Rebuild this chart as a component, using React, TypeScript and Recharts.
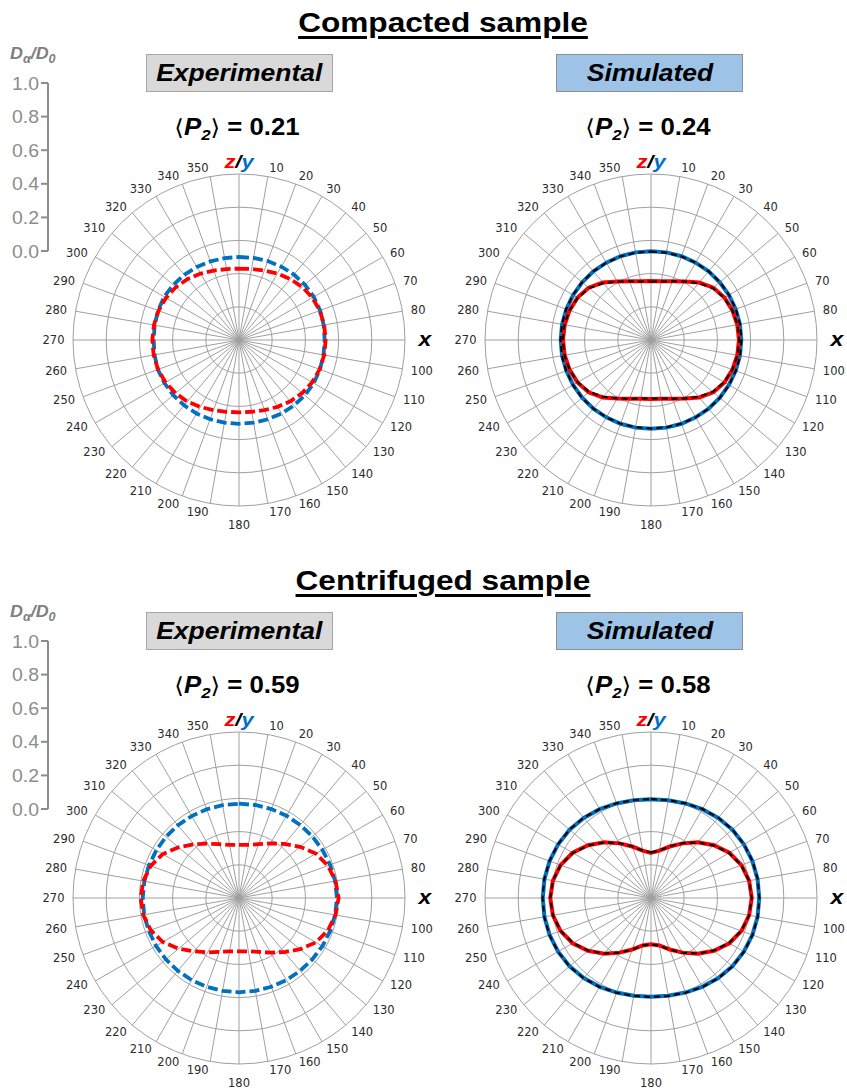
import React from 'react';
import {
  RadarChart,
  PolarGrid,
  PolarAngleAxis,
  PolarRadiusAxis,
  Radar,
  LineChart,
  Line,
  XAxis,
  YAxis,
} from 'recharts';

// ---------------- data ----------------
const ANGLES = [0, 10, 20, 30, 40, 50, 60, 70, 80, 90, 100, 110, 120, 130, 140, 150, 160, 170,
  180, 190, 200, 210, 220, 230, 240, 250, 260, 270, 280, 290, 300, 310, 320, 330, 340, 350];
const RADIAL_TICKS = [0, 0.2, 0.4, 0.6, 0.8, 1.0];

// Compacted sample – experimental (dashed)
const COMPACT_EXP_Y = [0.500, 0.502, 0.506, 0.510, 0.515, 0.518, 0.520, 0.520, 0.518, 0.516,
  0.517, 0.519, 0.520, 0.518, 0.515, 0.512, 0.508, 0.506, 0.505,
  0.506, 0.508, 0.511, 0.514, 0.517, 0.519, 0.520, 0.517, 0.514,
  0.516, 0.519, 0.520, 0.517, 0.513, 0.508, 0.504, 0.501];
const COMPACT_EXP_Z = [0.430, 0.434, 0.445, 0.462, 0.480, 0.497, 0.510, 0.518, 0.521, 0.522,
  0.521, 0.517, 0.509, 0.497, 0.482, 0.465, 0.449, 0.439, 0.436,
  0.439, 0.450, 0.466, 0.484, 0.499, 0.511, 0.519, 0.522, 0.522,
  0.520, 0.516, 0.508, 0.496, 0.480, 0.462, 0.445, 0.434];

// Compacted sample – simulated (solid) and fit (black dashed)
const COMPACT_SIM_Y = [0.535, 0.536, 0.537, 0.538, 0.540, 0.541, 0.542, 0.543, 0.544, 0.544,
  0.544, 0.543, 0.542, 0.541, 0.540, 0.538, 0.537, 0.536, 0.535,
  0.536, 0.537, 0.538, 0.540, 0.541, 0.542, 0.543, 0.544, 0.544,
  0.544, 0.543, 0.542, 0.541, 0.540, 0.538, 0.537, 0.536];
const COMPACT_FIT_Y = [0.533, 0.534, 0.536, 0.538, 0.540, 0.542, 0.543, 0.544, 0.545, 0.545,
  0.545, 0.544, 0.543, 0.542, 0.540, 0.538, 0.536, 0.534, 0.533,
  0.534, 0.536, 0.538, 0.540, 0.542, 0.543, 0.544, 0.545, 0.545,
  0.545, 0.544, 0.543, 0.542, 0.540, 0.538, 0.536, 0.534];
const COMPACT_SIM_Z = [0.355, 0.360, 0.377, 0.407, 0.452, 0.490, 0.511, 0.522, 0.528, 0.530,
  0.528, 0.522, 0.511, 0.490, 0.452, 0.407, 0.377, 0.360, 0.355,
  0.360, 0.377, 0.407, 0.452, 0.490, 0.511, 0.522, 0.528, 0.530,
  0.528, 0.522, 0.511, 0.490, 0.452, 0.407, 0.377, 0.360];
const COMPACT_FIT_Z = [0.353, 0.358, 0.376, 0.407, 0.447, 0.486, 0.509, 0.522, 0.529, 0.531,
  0.529, 0.522, 0.509, 0.486, 0.447, 0.407, 0.376, 0.358, 0.353,
  0.358, 0.376, 0.407, 0.447, 0.486, 0.509, 0.522, 0.529, 0.531,
  0.529, 0.522, 0.509, 0.486, 0.447, 0.407, 0.376, 0.358];

// Centrifuged sample – experimental (dashed)
const CENTRI_EXP_Y = [0.568, 0.569, 0.570, 0.572, 0.574, 0.577, 0.580, 0.584, 0.588, 0.590,
  0.588, 0.584, 0.580, 0.576, 0.573, 0.571, 0.569, 0.568, 0.568,
  0.568, 0.569, 0.571, 0.573, 0.575, 0.577, 0.579, 0.580, 0.580,
  0.579, 0.577, 0.575, 0.574, 0.572, 0.570, 0.569, 0.568];
const CENTRI_EXP_Z = [0.320, 0.325, 0.345, 0.380, 0.425, 0.480, 0.535, 0.570, 0.590, 0.600,
  0.590, 0.570, 0.535, 0.480, 0.425, 0.380, 0.345, 0.326, 0.322,
  0.326, 0.345, 0.378, 0.420, 0.475, 0.530, 0.566, 0.586, 0.592,
  0.586, 0.566, 0.530, 0.475, 0.422, 0.378, 0.345, 0.325];

// Centrifuged sample – simulated (solid) and fit (black dashed)
const CENTRI_SIM_Y = [0.595, 0.598, 0.606, 0.618, 0.630, 0.640, 0.646, 0.650, 0.652, 0.652,
  0.652, 0.650, 0.646, 0.640, 0.630, 0.618, 0.606, 0.598, 0.595,
  0.598, 0.606, 0.618, 0.630, 0.640, 0.646, 0.650, 0.652, 0.652,
  0.652, 0.650, 0.646, 0.640, 0.630, 0.618, 0.606, 0.598];
const CENTRI_FIT_Y = [0.596, 0.599, 0.607, 0.619, 0.631, 0.641, 0.647, 0.651, 0.653, 0.653,
  0.653, 0.651, 0.647, 0.641, 0.631, 0.619, 0.607, 0.599, 0.596,
  0.599, 0.607, 0.619, 0.631, 0.641, 0.647, 0.651, 0.653, 0.653,
  0.653, 0.651, 0.647, 0.641, 0.631, 0.619, 0.607, 0.599];
const CENTRI_SIM_Z = [0.272, 0.290, 0.330, 0.380, 0.438, 0.495, 0.545, 0.580, 0.600, 0.607,
  0.600, 0.580, 0.545, 0.495, 0.438, 0.380, 0.330, 0.290, 0.278,
  0.290, 0.330, 0.380, 0.438, 0.495, 0.545, 0.580, 0.600, 0.607,
  0.600, 0.580, 0.545, 0.495, 0.438, 0.380, 0.330, 0.290];
const CENTRI_FIT_Z = [0.274, 0.291, 0.331, 0.381, 0.437, 0.493, 0.543, 0.579, 0.600, 0.607,
  0.600, 0.579, 0.543, 0.493, 0.437, 0.381, 0.331, 0.291, 0.280,
  0.291, 0.331, 0.381, 0.437, 0.493, 0.543, 0.579, 0.600, 0.607,
  0.600, 0.579, 0.543, 0.493, 0.437, 0.381, 0.331, 0.291];

const P2_VALUES = ['0.21', '0.24', '0.59', '0.58'];

// ---------------- layout / style ----------------
const RED = '#ff0000';
const BLUE = '#0070c0';
const GRID = '#a0a0a0';
const SCALE_GRAY = '#8c8c8c';
const R = 166;
const SIZE = 420;
const C = SIZE / 2;
const SANS = '"Liberation Sans", Arial, sans-serif';

type SeriesDef = { key: string; values: number[]; color: string; width: number; dash?: string };

function AngleTick(props: any) {
  const a = Number(props?.payload?.value);
  const th = (a * Math.PI) / 180;
  const s = Math.sin(th);
  const c = Math.cos(th);
  if (a === 0) {
    const d = R + 12.5;
    return (
      <g transform={`translate(${C},${C - d}) scale(1.15,1)`}>
        <text x={0} y={6} textAnchor="middle" fontFamily={SANS} fontWeight="bold" fontStyle="italic" fontSize={19}>
          <tspan fill={RED}>z</tspan>
          <tspan fill="#000">/</tspan>
          <tspan fill={BLUE}>y</tspan>
        </text>
      </g>
    );
  }
  if (a === 90) {
    const d = R + 20;
    return (
      <g transform={`translate(${C + d},${C}) scale(1.15,1)`}>
        <text x={0} y={6} textAnchor="middle" fontFamily={SANS} fontWeight="bold" fontStyle="italic" fontSize={20} fill="#000">
          x
        </text>
      </g>
    );
  }
  const label = String(a);
  const D = R + 8.5;
  const x = C + D * s;
  let y = C - D * c;
  let anchor: 'start' | 'end' | 'middle' = 'middle';
  if (s > 1e-6) anchor = 'start';
  else if (s < -1e-6) anchor = 'end';
  else y += 10; // 180 sits below the ring
  return (
    <text x={x} y={y + 4.2} textAnchor={anchor} fontSize={11.5} fontFamily='"DejaVu Sans", sans-serif' fill="#2b2b2b">
      {label}
    </text>
  );
}

function ScaleTick(props: any) {
  const { x, y, payload } = props;
  return (
    <g transform={`translate(${x},${y + 6.5}) scale(1.08,1)`}>
      <text x={0} y={0} textAnchor="end" fontSize={18} fontFamily={SANS} fill={SCALE_GRAY}>
        {Number(payload.value).toFixed(1)}
      </text>
    </g>
  );
}

function PolarPanel({ cx, cy, series }: { cx: number; cy: number; series: SeriesDef[] }) {
  const data = ANGLES.map((angle, i) => {
    const row: Record<string, number> = { angle };
    series.forEach((sd) => {
      row[sd.key] = sd.values[i];
    });
    return row;
  });
  return (
    <div style={{ position: 'absolute', left: cx - C, top: cy - C, width: SIZE, height: SIZE }}>
      <RadarChart
        width={SIZE}
        height={SIZE}
        data={data}
        cx={C}
        cy={C}
        innerRadius={0}
        outerRadius={R}
        margin={{ top: 0, right: 0, bottom: 0, left: 0 }}
      >
        <PolarGrid gridType="circle" stroke={GRID} strokeWidth={1} />
        <PolarAngleAxis dataKey="angle" tick={AngleTick} tickLine={false} axisLine={false} />
        <PolarRadiusAxis type="number" domain={[0, 1]} ticks={RADIAL_TICKS} tickCount={6} tick={false} axisLine={false} angle={90} />
        {series.map((sd) => (
          <Radar
            key={sd.key}
            dataKey={sd.key}
            stroke={sd.color}
            strokeWidth={sd.width}
            strokeDasharray={sd.dash}
            fill="none"
            fillOpacity={0}
            dot={false}
            isAnimationActive={false}
          />
        ))}
      </RadarChart>
    </div>
  );
}

function ScaleAxis({ top }: { top: number }) {
  const data = RADIAL_TICKS.map((v, i) => ({ i, v }));
  return (
    <div style={{ position: 'absolute', left: 0, top: top - 10 }}>
      <div
        style={{
          position: 'absolute',
          left: 10,
          top: -29,
          fontFamily: SANS,
          fontWeight: 'bold',
          fontStyle: 'italic',
          fontSize: 17,
          color: '#7f7f7f',
          whiteSpace: 'nowrap',
          lineHeight: '20px',
          transform: 'scaleX(1.05)',
          transformOrigin: 'left',
        }}
      >
        D<sub style={{ fontSize: 12, verticalAlign: '-4px' }}>α</sub>/D<sub style={{ fontSize: 12, verticalAlign: '-4px' }}>0</sub>
      </div>
      <LineChart width={60} height={188} data={data} margin={{ top: 10, right: 10, bottom: 10, left: 0 }}>
        <XAxis hide dataKey="i" type="number" domain={[0, 5]} />
        <YAxis
          type="number"
          domain={[0, 1]}
          ticks={RADIAL_TICKS}
          width={48}
          tickSize={7}
          tickMargin={2}
          axisLine={{ stroke: SCALE_GRAY, strokeWidth: 2 }}
          tickLine={{ stroke: SCALE_GRAY, strokeWidth: 2 }}
          tick={ScaleTick}
          interval={0}
          allowDataOverflow
        />
        <Line dataKey="v" stroke="none" dot={false} activeDot={false} isAnimationActive={false} />
      </LineChart>
    </div>
  );
}

function Title({ text, baseline }: { text: string; baseline: number }) {
  return (
    <div
      style={{
        position: 'absolute',
        left: 443 - 300,
        width: 600,
        top: baseline - 24.5,
        textAlign: 'center',
        fontFamily: SANS,
        fontWeight: 'bold',
        fontSize: 27,
        lineHeight: '30px',
        color: '#000',
        transform: 'scaleX(1.17)',
        transformOrigin: 'center',
      }}
    >
      <span style={{ textDecoration: 'underline', textDecorationThickness: '2.5px', textUnderlineOffset: '4px' }}>{text}</span>
    </div>
  );
}

function Badge({ text, left, top, bg, border }: { text: string; left: number; top: number; bg: string; border: string }) {
  return (
    <div
      style={{
        position: 'absolute',
        left,
        top,
        width: 187,
        height: 38,
        boxSizing: 'border-box',
        background: bg,
        border: `1.5px solid ${border}`,
        display: 'flex',
        alignItems: 'center',
        justifyContent: 'center',
      }}
    >
      <span
        style={{
          fontFamily: SANS,
          fontWeight: 'bold',
          fontStyle: 'italic',
          fontSize: 23,
          lineHeight: '26px',
          color: '#000',
          display: 'inline-block',
          transform: 'scaleX(1.15)',
        }}
      >
        {text}
      </span>
    </div>
  );
}

function P2Label({ value, cx, baseline }: { value: string; cx: number; baseline: number }) {
  return (
    <div
      style={{
        position: 'absolute',
        left: cx - 120,
        width: 240,
        top: baseline - 22,
        textAlign: 'center',
        fontFamily: SANS,
        fontWeight: 'bold',
        fontSize: 23,
        lineHeight: '28px',
        color: '#000',
        transform: 'scaleX(1.12)',
        whiteSpace: 'nowrap',
      }}
    >
      <span style={{ fontFamily: '"DejaVu Sans", sans-serif', fontWeight: 'normal', fontSize: 22 }}>⟨</span>
      <i>P</i>
      <sub style={{ fontSize: 15, verticalAlign: '-5px', fontStyle: 'italic' }}>2</sub>
      <span style={{ fontFamily: '"DejaVu Sans", sans-serif', fontWeight: 'normal', fontSize: 22 }}>⟩</span>
      {' = ' + value}
    </div>
  );
}

const EXP_DASH = '10 4';
const FIT_DASH = '6 4';

export default function App() {
  const dy = 558.3;
  const centers = [
    { cx: 239.3, cy: 340 },
    { cx: 651, cy: 340 },
    { cx: 239.3, cy: 340 + dy },
    { cx: 651, cy: 340 + dy },
  ];
  const compactExp: SeriesDef[] = [
    { key: 'y', values: COMPACT_EXP_Y, color: BLUE, width: 3.8, dash: EXP_DASH },
    { key: 'z', values: COMPACT_EXP_Z, color: RED, width: 3.8, dash: EXP_DASH },
  ];
  const compactSim: SeriesDef[] = [
    { key: 'y', values: COMPACT_SIM_Y, color: BLUE, width: 4 },
    { key: 'z', values: COMPACT_SIM_Z, color: RED, width: 4 },
    { key: 'yfit', values: COMPACT_FIT_Y, color: '#000', width: 2, dash: FIT_DASH },
    { key: 'zfit', values: COMPACT_FIT_Z, color: '#000', width: 2, dash: FIT_DASH },
  ];
  const centriExp: SeriesDef[] = [
    { key: 'y', values: CENTRI_EXP_Y, color: BLUE, width: 3.8, dash: EXP_DASH },
    { key: 'z', values: CENTRI_EXP_Z, color: RED, width: 3.8, dash: EXP_DASH },
  ];
  const centriSim: SeriesDef[] = [
    { key: 'y', values: CENTRI_SIM_Y, color: BLUE, width: 4 },
    { key: 'z', values: CENTRI_SIM_Z, color: RED, width: 4 },
    { key: 'yfit', values: CENTRI_FIT_Y, color: '#000', width: 2, dash: FIT_DASH },
    { key: 'zfit', values: CENTRI_FIT_Z, color: '#000', width: 2, dash: FIT_DASH },
  ];

  return (
    <div
      style={{
        position: 'absolute',
        left: 0,
        top: 0,
        width: 847,
        height: 1092,
        overflow: 'hidden',
        background: '#fff',
      }}
    >
      <Title text="Compacted sample" baseline={32.3} />
      <Title text="Centrifuged sample" baseline={32.3 + dy} />

      <ScaleAxis top={82.7} />
      <ScaleAxis top={82.7 + dy} />

      <Badge text="Experimental" left={146} top={54} bg="#d9d9d9" border="#a6a6a6" />
      <Badge text="Simulated" left={556} top={54} bg="#9dc3e6" border="#8f8f8f" />
      <Badge text="Experimental" left={146} top={54 + dy} bg="#d9d9d9" border="#a6a6a6" />
      <Badge text="Simulated" left={556} top={54 + dy} bg="#9dc3e6" border="#8f8f8f" />

      <P2Label value={P2_VALUES[0]} cx={237} baseline={135} />
      <P2Label value={P2_VALUES[1]} cx={648} baseline={135} />
      <P2Label value={P2_VALUES[2]} cx={237} baseline={135 + dy} />
      <P2Label value={P2_VALUES[3]} cx={648} baseline={135 + dy} />

      <PolarPanel cx={centers[0].cx} cy={centers[0].cy} series={compactExp} />
      <PolarPanel cx={centers[1].cx} cy={centers[1].cy} series={compactSim} />
      <PolarPanel cx={centers[2].cx} cy={centers[2].cy} series={centriExp} />
      <PolarPanel cx={centers[3].cx} cy={centers[3].cy} series={centriSim} />
    </div>
  );
}
